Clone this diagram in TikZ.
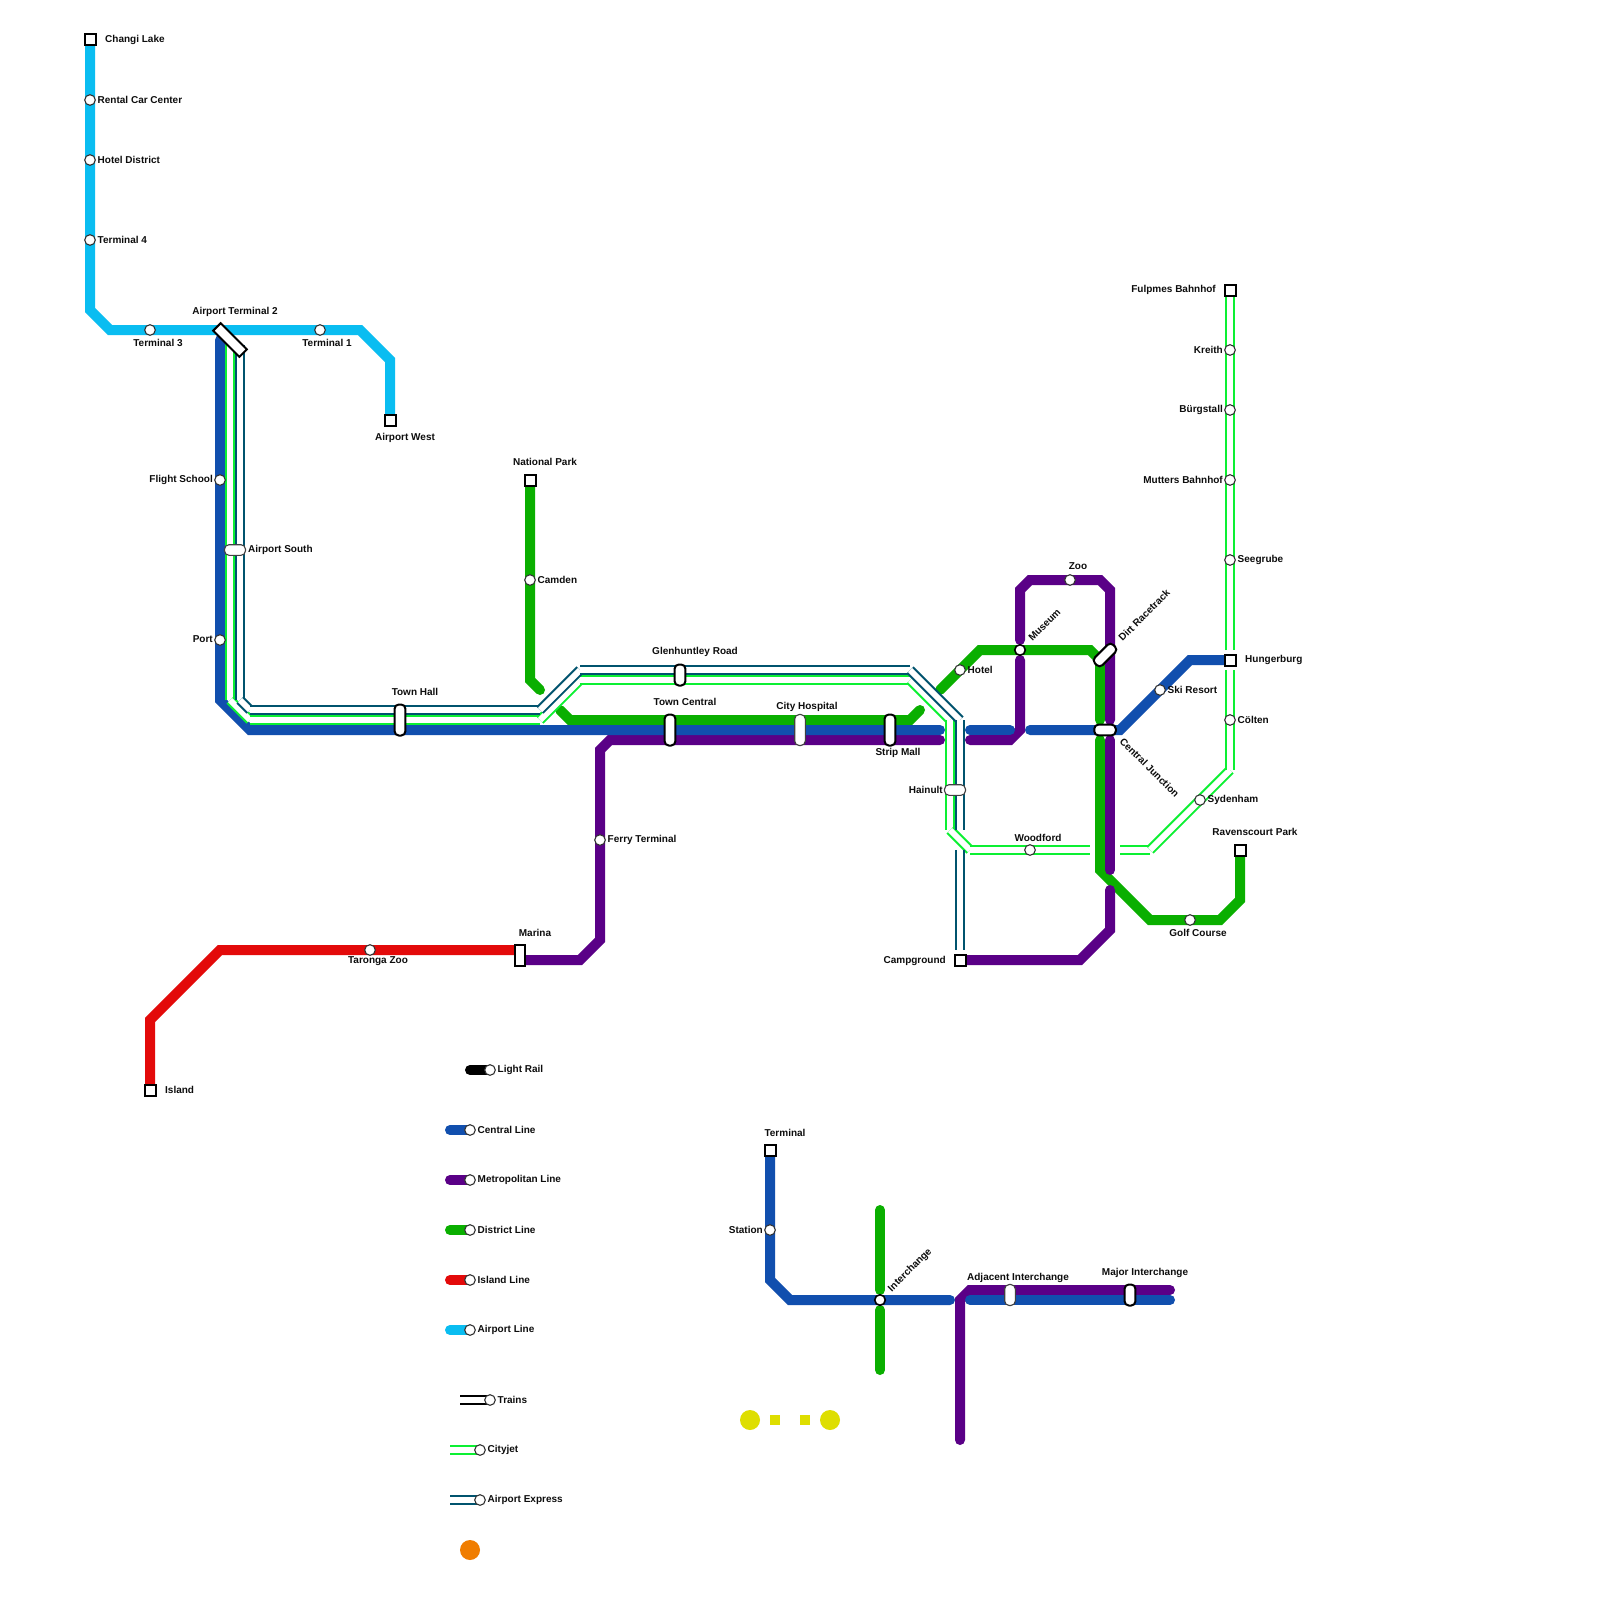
\documentclass[tikz,border=0pt]{standalone}
\usepackage{fontspec}
\setmainfont{Liberation Sans}
\definecolor{cyanl}{HTML}{0ABDF1}
\definecolor{bluel}{HTML}{114FAE}
\definecolor{purpl}{HTML}{5A0087}
\definecolor{greenl}{HTML}{0AAF00}
\definecolor{redl}{HTML}{E30A0A}
\definecolor{cityj}{HTML}{0CF032}
\definecolor{tealx}{HTML}{00536E}
\definecolor{yell}{HTML}{DEDE00}
\definecolor{orng}{HTML}{F07D00}
\definecolor{txt}{HTML}{0D0D0D}
\pgfdeclarelayer{lines}
\pgfsetlayers{lines,main}
\tikzset{
  metro/.style={line width=10pt,line cap=round,line join=miter},
  airportl/.style={metro,cyanl},
  centrall/.style={metro,bluel},
  metrol/.style={metro,purpl},
  districtl/.style={metro,greenl},
  islandl/.style={metro,redl},
  blackl/.style={metro,black},
  stn/.style={circle,draw=black!80,fill=white,line width=1.1pt,minimum size=10.6pt,inner sep=0pt},
  stnb/.style={stn,draw=black,line width=1.6pt},
  term/.style={rectangle,draw=black,fill=white,line width=2pt,minimum size=11pt,inner sep=0pt},
  pillv/.style={rectangle,draw=black,fill=white,line width=2pt,rounded corners=4.2pt,minimum width=10.8pt,inner sep=0pt},
  pillthin/.style={rectangle,draw=black!75,fill=white,line width=1.1pt,rounded corners=4.5pt,inner sep=0pt},
  lab/.style={font=\fontsize{10}{12}\selectfont\bfseries,text=txt,inner sep=0pt,yshift=-0.5pt},
  lw/.style={lab,anchor=west},
  le/.style={lab,anchor=east},
  lc/.style={lab,anchor=center},
  ydot/.style={circle,fill=yell,minimum size=20pt,inner sep=0pt},
  ysq/.style={rectangle,fill=yell,minimum size=10pt,inner sep=0pt},
}
\newcommand{\dbl}[2]{\draw[line width=10pt,#1,line cap=butt] #2; \draw[line width=6pt,white,line cap=butt] #2;}
\begin{document}
\begin{tikzpicture}[x=1pt,y=-1pt]
\useasboundingbox (0,0) rectangle (1600,1600);
% stations
\node[term] (changi) at (90,40) {};
\node[stn] (rental) at (90,100) {};
\node[stn] (hoteld) at (90,160) {};
\node[stn] (t4) at (90,240) {};
\node[stn] (t3) at (150,330) {};
\node[stn] (t1) at (320,330) {};
\node[term] (awest) at (390,420) {};
\node[term] (natpark) at (530,480) {};
\node[stn] (camden) at (530,580) {};
\node[stn] (flight) at (220,480) {};
\node[stn] (port) at (220,640) {};
\node[stn] (hotel) at (960,670) {};
\node[stnb] (museum) at (1020,650) {};
\node[stn] (zoo) at (1070,580) {};
\node[stn] (ski) at (1160,690) {};
\node[term] (hunger) at (1230,660) {};
\node[term] (fulpmes) at (1230,290) {};
\node[stn] (kreith) at (1230,350) {};
\node[stn] (burg) at (1230,410) {};
\node[stn] (mutters) at (1230,480) {};
\node[stn] (seeg) at (1230,560) {};
\node[stn] (colten) at (1230,720) {};
\node[stn] (syd) at (1200,800) {};
\node[stn] (wood) at (1030,850) {};
\node[term] (raven) at (1240,850) {};
\node[stn] (golf) at (1190,920) {};
\node[term] (camp) at (960,960) {};
\node[stn] (ferry) at (600,840) {};
\node[stn] (taronga) at (370,950) {};
\node[term] (island) at (150,1090) {};
\node[term,minimum width=10.5pt,minimum height=21pt] (marina) at (520,955) {};
\node[term,minimum width=37pt,minimum height=10.5pt,rotate=-45] (at2) at (230,340) {};
\node[pillthin,minimum width=21pt,minimum height=10.6pt] (asouth) at (235,550) {};
\node[pillv,minimum height=31pt] (townhall) at (400,720) {};
\node[pillv,minimum height=21pt] (glen) at (680,675) {};
\node[pillv,minimum height=31pt] (towncen) at (670,730) {};
\node[pillthin,minimum width=10.6pt,minimum height=31pt] (cityh) at (800,730) {};
\node[pillv,minimum height=31pt] (strip) at (890,730) {};
\node[pillthin,minimum width=21pt,minimum height=10.6pt] (hainult) at (955,790) {};
\node[pillv,minimum height=26pt,rotate=-45] (dirt) at (1105,655) {};
\node[pillv,minimum height=21.5pt,rotate=90] (cjunc) at (1105,730) {};
% bottom system
\node[term] (termb) at (770,1150) {};
\node[stn] (stationb) at (770,1230) {};
\node[stnb] (inter) at (880,1300) {};
\node[pillthin,minimum width=10.6pt,minimum height=21pt] (adj) at (1010,1295) {};
\node[pillv,minimum height=21pt] (major) at (1130,1295) {};
% legend
\node[stn] (lgrail) at (490,1070) {};
\node[stn] (lgcen) at (470,1130) {};
\node[stn] (lgmet) at (470,1180) {};
\node[stn] (lgdis) at (470,1230) {};
\node[stn] (lgisl) at (470,1280) {};
\node[stn] (lgair) at (470,1330) {};
\node[stn] (lgtr) at (490,1400) {};
\node[stn] (lgcj) at (480,1450) {};
\node[stn] (lgax) at (480,1500) {};
\node[circle,fill=orng,minimum size=20pt,inner sep=0pt] (orangedot) at (470,1550) {};
\node[ydot] (y1) at (750,1420) {};
\node[ysq] (y2) at (775,1420) {};
\node[ysq] (y3) at (805,1420) {};
\node[ydot] (y4) at (830,1420) {};
% labels
\node[lw] (l1) at (105,39) {Changi Lake};
\node[lw] (l2) at (97.5,99) {Rental Car Center};
\node[lw] (l3) at (97.5,159) {Hotel District};
\node[lw] (l4) at (97.5,239) {Terminal 4};
\node[lc] (l5) at (158,342) {Terminal 3};
\node[lc] (l6) at (235,311) {Airport Terminal 2};
\node[lc] (l7) at (327,342) {Terminal 1};
\node[lc] (l8) at (405,437) {Airport West};
\node[lc] (l9) at (545,461) {National Park};
\node[lw] (l10) at (537.5,579) {Camden};
\node[le] (l11) at (213,479) {Flight School};
\node[lw] (l12) at (248,549) {Airport South};
\node[le] (l13) at (213,639) {Port};
\node[lc] (l14) at (415,691) {Town Hall};
\node[lc] (l15) at (695,651) {Glenhuntley Road};
\node[lc] (l16) at (685,701) {Town Central};
\node[lc] (l17) at (807,706) {City Hospital};
\node[lc] (l18) at (898,752) {Strip Mall};
\node[lw] (l19) at (967.5,669) {Hotel};
\node[le] (l20) at (943,789) {Hainult};
\node[lw,rotate=45] (l21) at (1030,639) {Museum};
\node[lc] (l22) at (1078,566) {Zoo};
\node[lw,rotate=45] (l23) at (1120,639) {Dirt Racetrack};
\node[lw] (l24) at (1167.5,689) {Ski Resort};
\node[lw] (l25) at (1245,659) {Hungerburg};
\node[lw,rotate=-45] (l26) at (1121.5,739) {Central Junction};
\node[lw] (l27) at (1237.5,719) {Cölten};
\node[lw] (l28) at (1207.5,799) {Sydenham};
\node[lc] (l29) at (1255,831) {Ravenscourt Park};
\node[lc] (l30) at (1038,837) {Woodford};
\node[lc] (l31) at (1198,932) {Golf Course};
\node[le] (l32) at (946,960) {Campground};
\node[le] (l33) at (1216,289) {Fulpmes Bahnhof};
\node[le] (l34) at (1223,349) {Kreith};
\node[le] (l35) at (1223,409) {Bürgstall};
\node[le] (l36) at (1223,479) {Mutters Bahnhof};
\node[lw] (l37) at (1237.5,559) {Seegrube};
\node[lw] (l38) at (607.5,839) {Ferry Terminal};
\node[lc] (l39) at (535,932) {Marina};
\node[lc] (l40) at (378,961) {Taronga Zoo};
\node[lw] (l41) at (165,1089) {Island};
\node[lw] (l42) at (497.5,1069) {Light Rail};
\node[lw] (l43) at (477.5,1129) {Central Line};
\node[lw] (l44) at (477.5,1179) {Metropolitan Line};
\node[lw] (l45) at (477.5,1229) {District Line};
\node[lw] (l46) at (477.5,1279) {Island Line};
\node[lw] (l47) at (477.5,1329) {Airport Line};
\node[lw] (l48) at (497.5,1399) {Trains};
\node[lw] (l49) at (487.5,1449) {Cityjet};
\node[lw] (l50) at (487.5,1499) {Airport Express};
\node[lc] (l51) at (785,1132) {Terminal};
\node[le] (l52) at (763,1229) {Station};
\node[lw,rotate=45] (l53) at (890,1290) {Interchange};
\node[lc] (l54) at (1018,1277) {Adjacent Interchange};
\node[lc] (l55) at (1145,1272) {Major Interchange};
% free ends of lines
\coordinate (cEnd1) at (940,730);
\coordinate (cEnd2a) at (970,730);
\coordinate (cEnd2b) at (1010,730);
\coordinate (cEnd3) at (1030,730);
\begin{pgfonlayer}{lines}
\fill[white] (0,0) rectangle (1600,1600);
% District
\draw[districtl] (natpark.center) -- (530,680) -- (540,690);
\draw[districtl] (560,710) -- (570,720) -- (910,720) -- (920,710);
\draw[districtl] (940,690) -- (980,650) -- (1090,650) -- (1100,660) -- (1100,720);
\draw[districtl] (1100,740) -- (1100,870) -- (1150,920) -- (1220,920) -- (1240,900) -- (raven.center);
% Metropolitan
\draw[metrol] (marina.center) |- (580,960) -- (600,940) -- (600,750) -- (610,740) -- (940,740);
\draw[metrol] (970,740) -- (1010,740) -- (1020,730) -- (1020,660);
\draw[metrol] (1020,640) -- (1020,590) -- (1030,580) -- (1100,580) -- (1110,590) -- (1110,720);
\draw[metrol] (1110,740) -- (1110,870);
\draw[metrol] (1110,890) -- (1110,930) -- (1080,960) -- (camp.center);
% Central
\draw[centrall] (220,340) -- (220,700) -- (250,730) -- (cEnd1);
\draw[centrall] (cEnd2a) -- (cEnd2b);
\draw[centrall] (cEnd3) -- (1120,730) -- (1190,660) -- (hunger.center);
% Island
\draw[islandl] (island.center) -- (150,1020) -- (220,950) -- (marina.west |- 0,950);
% Airport
\draw[airportl] (changi.center) -- (90,310) -- (110,330) -- (360,330) -- (390,360) -- (awest.center);
% Cityjet
\dbl{cityj}{(230,340) -- (230,700)}
\dbl{cityj}{(230,700) -- (250,720)}
\dbl{cityj}{(250,720) -- (540,720)}
\dbl{cityj}{(540,720) -- (580,680)}
\dbl{cityj}{(580,680) -- (910,680)}
\dbl{cityj}{(910,680) -- (950,720)}
\dbl{cityj}{(950,720) -- (950,830)}
\dbl{cityj}{(950,830) -- (970,850)}
\dbl{cityj}{(970,850) -- (1090,850)}
\dbl{cityj}{(1120,850) -- (1150,850)}
\dbl{cityj}{(1150,850) -- (1230,770)}
\dbl{cityj}{(1230,770) -- (1230,670)}
\dbl{cityj}{(1230,650) -- (fulpmes.center)}
% Airport Express
\dbl{tealx}{(240,345) -- (240,700)}
\dbl{tealx}{(240,700) -- (250,710)}
\dbl{tealx}{(250,710) -- (540,710)}
\dbl{tealx}{(540,710) -- (580,670)}
\dbl{tealx}{(580,670) -- (910,670)}
\dbl{tealx}{(910,670) -- (960,720)}
\dbl{tealx}{(960,720) -- (960,830)}
\dbl{tealx}{(960,850) -- (960,950)}
% bottom system
\draw[districtl] (880,1210) -- (880,1290);
\draw[districtl] (880,1310) -- (880,1370);
\draw[metrol] (960,1440) -- (960,1300) -- (970,1290) -- (1170,1290);
\draw[centrall] (termb.center) -- (770,1280) -- (790,1300) -- (950,1300);
\draw[centrall] (970,1300) -- (1170,1300);
% legend swatches
\draw[blackl] (470,1070) -- (lgrail.center);
\draw[centrall] (450,1130) -- (lgcen.center);
\draw[metrol] (450,1180) -- (lgmet.center);
\draw[districtl] (450,1230) -- (lgdis.center);
\draw[islandl] (450,1280) -- (lgisl.center);
\draw[airportl] (450,1330) -- (lgair.center);
\dbl{black}{(460,1400) -- (lgtr.center)}
\dbl{cityj}{(450,1450) -- (lgcj.center)}
\dbl{tealx}{(450,1500) -- (lgax.center)}
\end{pgfonlayer}
\end{tikzpicture}
\end{document}
